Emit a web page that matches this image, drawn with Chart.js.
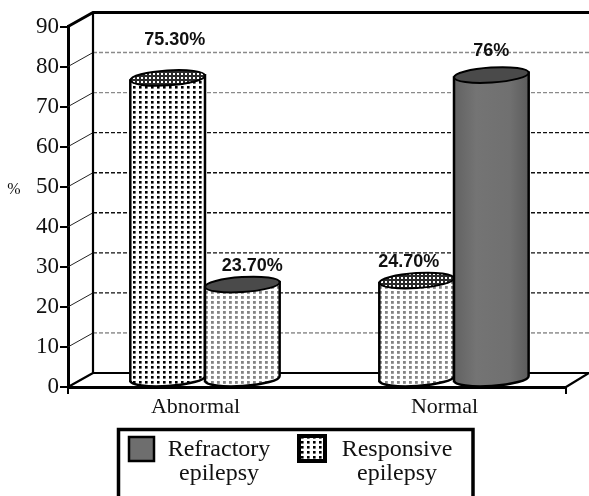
<!DOCTYPE html>
<html>
<head>
<meta charset="utf-8">
<style>
  html, body { margin: 0; padding: 0; background: #fff; }
  canvas { display: block; }
</style>
<script src="https://cdn.jsdelivr.net/npm/chart.js@4/dist/chart.umd.min.js"></script>
</head>
<body>
<canvas id="chart" width="589" height="496"></canvas>
<script>
const categories = ['Abnormal', 'Normal'];
const responsiveValues = [75.3, 24.7];
const refractoryValues = [23.7, 76];
const responsiveLabels = ['75.30%', '24.70%'];
const refractoryLabels = ['23.70%', '76%'];
const gridValues = [10, 20, 30, 40, 50, 60, 70, 80];

const serif = '"Liberation Serif", serif';
const sans = '"Liberation Sans", sans-serif';
const depthX = 25;
const depthY = 14;
const ellipseRy = 7.5;
const tilt = -0.065;

function dotPattern(w, h, size, dotColor, bgColor) {
  const tile = document.createElement('canvas');
  tile.width = w;
  tile.height = h;
  const t = tile.getContext('2d');
  t.fillStyle = bgColor;
  t.fillRect(0, 0, w, h);
  t.fillStyle = dotColor;
  t.fillRect(1, 1, size, size);
  return document.createElement('canvas').getContext('2d').createPattern(tile, 'repeat');
}

const blackDots = dotPattern(6, 5, 2.6, '#000', '#fff');
const grayDots = dotPattern(6, 5, 2.8, '#848484', '#fff');
const fineDots = dotPattern(4, 4, 2, '#fff', '#2a2a2a');

// body and top fill of each cylinder, same order as the datasets
const bodyFills = [[blackDots, grayDots], [grayDots, null]];
const topFills = [[fineDots, fineDots], ['#4a4a4a', '#4a4a4a']];
// where each value label sits relative to its cylinder
const labelNudge = [[[7, -45], [-8, -26]], [[10, -26], [0, -32]]];

function drawCylinder(ctx, bar, body, top) {
  const cx = bar.x + depthX / 2;
  const rx = bar.width / 2;
  const topY = bar.y - ellipseRy;
  const baseY = bar.base - ellipseRy;
  const dy = rx * Math.sin(tilt);

  let fill = body;
  if (!fill) {
    fill = ctx.createLinearGradient(cx - rx, 0, cx + rx, 0);
    fill.addColorStop(0, '#626262');
    fill.addColorStop(0.3, '#747474');
    fill.addColorStop(0.75, '#707070');
    fill.addColorStop(1, '#5c5c5c');
  }

  ctx.beginPath();
  ctx.moveTo(cx - rx, topY - dy);
  ctx.lineTo(cx - rx, baseY - dy);
  ctx.ellipse(cx, baseY, rx, ellipseRy, tilt, Math.PI, 0, true);
  ctx.lineTo(cx + rx, topY + dy);
  ctx.closePath();
  ctx.fillStyle = fill;
  ctx.fill();
  ctx.strokeStyle = '#000';
  ctx.lineWidth = 2.5;
  ctx.stroke();

  ctx.beginPath();
  ctx.ellipse(cx, topY, rx, ellipseRy, tilt, 0, Math.PI * 2);
  ctx.fillStyle = top;
  ctx.fill();
  ctx.lineWidth = 2;
  ctx.stroke();
}

const wallPlugin = {
  id: 'walls',
  beforeDatasetsDraw(chart) {
    const ctx = chart.ctx;
    const y = chart.scales.y;
    const a = chart.chartArea;
    const backX = a.left + depthX;
    const backRight = a.right + depthX - 2;
    ctx.save();

    gridValues.forEach(v => {
      const py = y.getPixelForValue(v);
      ctx.setLineDash([]);
      ctx.lineWidth = 1;
      ctx.strokeStyle = '#222';
      ctx.beginPath();
      ctx.moveTo(a.left, py);
      ctx.lineTo(backX, py - depthY);
      ctx.stroke();

      ctx.setLineDash([4, 2]);
      ctx.strokeStyle = v >= 70 ? '#8a8a8a' : v === 10 ? '#555' : '#111';
      ctx.lineWidth = v === 10 ? 1 : 1.4;
      ctx.beginPath();
      ctx.moveTo(backX, py - depthY);
      ctx.lineTo(backRight + 2, py - depthY);
      ctx.stroke();
    });

    ctx.setLineDash([]);
    ctx.strokeStyle = '#000';
    ctx.lineWidth = 2.2;
    ctx.beginPath();
    ctx.moveTo(backX, a.top - depthY);
    ctx.lineTo(backX, a.bottom - depthY);
    ctx.lineTo(backRight, a.bottom - depthY);
    ctx.lineTo(a.right, a.bottom);
    ctx.moveTo(a.left, a.bottom);
    ctx.lineTo(backX, a.bottom - depthY);
    ctx.stroke();

    ctx.lineWidth = 3;
    ctx.beginPath();
    ctx.moveTo(a.left, a.top);
    ctx.lineTo(backX, a.top - depthY);
    ctx.lineTo(chart.width, a.top - depthY);
    ctx.stroke();
    ctx.restore();
  }
};

const cylinderPlugin = {
  id: 'cylinders',
  afterDatasetsDraw(chart) {
    const ctx = chart.ctx;
    ctx.save();
    chart.data.datasets.forEach((ds, i) => {
      chart.getDatasetMeta(i).data.forEach((bar, j) => {
        drawCylinder(ctx, bar, bodyFills[i][j], topFills[i][j]);
      });
    });
    ctx.font = 'bold 18px ' + sans;
    ctx.fillStyle = '#111';
    ctx.textAlign = 'center';
    ctx.textBaseline = 'middle';
    chart.data.datasets.forEach((ds, i) => {
      chart.getDatasetMeta(i).data.forEach((bar, j) => {
        const n = labelNudge[i][j];
        ctx.fillText(ds.valueLabels[j], bar.x + depthX / 2 + n[0], bar.y + n[1]);
      });
    });
    ctx.restore();
  }
};

const legendPlugin = {
  id: 'boxLegend',
  afterDraw(chart) {
    const ctx = chart.ctx;
    ctx.save();
    ctx.fillStyle = '#111';
    ctx.font = '16px ' + serif;
    ctx.textAlign = 'center';
    ctx.textBaseline = 'middle';
    ctx.fillText('%', 14, 190);

    // box runs off the bottom of the picture, as in the original
    ctx.strokeStyle = '#000';
    ctx.lineWidth = 3.5;
    ctx.beginPath();
    ctx.moveTo(118.5, 496);
    ctx.lineTo(118.5, 429.5);
    ctx.lineTo(473, 429.5);
    ctx.lineTo(473, 496);
    ctx.stroke();

    ctx.fillStyle = '#6e6e6e';
    ctx.fillRect(129, 437, 25, 24);
    ctx.lineWidth = 2.5;
    ctx.strokeRect(129, 437, 25, 24);

    ctx.fillStyle = blackDots;
    ctx.fillRect(299, 436, 26, 25);
    ctx.lineWidth = 4;
    ctx.strokeRect(299, 436, 26, 25);

    ctx.fillStyle = '#111';
    ctx.font = '24px ' + serif;
    ctx.fillText('Refractory', 219, 450);
    ctx.fillText('epilepsy', 219, 474);
    ctx.fillText('Responsive', 397, 450);
    ctx.fillText('epilepsy', 397, 474);
    ctx.restore();
  }
};

new Chart(document.getElementById('chart'), {
  type: 'bar',
  data: {
    labels: categories,
    datasets: [
      { label: 'Responsive epilepsy', data: responsiveValues, valueLabels: responsiveLabels, backgroundColor: 'transparent' },
      { label: 'Refractory epilepsy', data: refractoryValues, valueLabels: refractoryLabels, backgroundColor: 'transparent' }
    ]
  },
  options: {
    responsive: false,
    animation: false,
    devicePixelRatio: 1,
    layout: { padding: { top: 26.5, right: 23, left: 0, bottom: 0 } },
    datasets: { bar: { categoryPercentage: 0.6, barPercentage: 1 } },
    plugins: { legend: { display: false }, tooltip: { enabled: false } },
    scales: {
      x: {
        afterFit(s) { s.height = 109; },
        grid: {
          drawOnChartArea: false,
          tickLength: 7,
          lineWidth: 2,
          tickColor: c => (c.index === 1 ? 'transparent' : '#000')
        },
        border: { color: '#000', width: 3 },
        ticks: {
          color: '#111',
          font: { family: serif, size: 22 },
          labelOffset: 3,
          padding: 0,
          maxRotation: 0
        }
      },
      y: {
        min: 0,
        max: 90,
        afterFit(s) { s.width = 68; },
        grid: { drawOnChartArea: false, tickLength: 8, lineWidth: 2, tickColor: '#000' },
        border: { color: '#000', width: 3 },
        ticks: {
          stepSize: 10,
          color: '#111',
          font: { family: serif, size: 23 },
          padding: 1
        }
      }
    }
  },
  plugins: [wallPlugin, cylinderPlugin, legendPlugin]
});
</script>
</body>
</html>
